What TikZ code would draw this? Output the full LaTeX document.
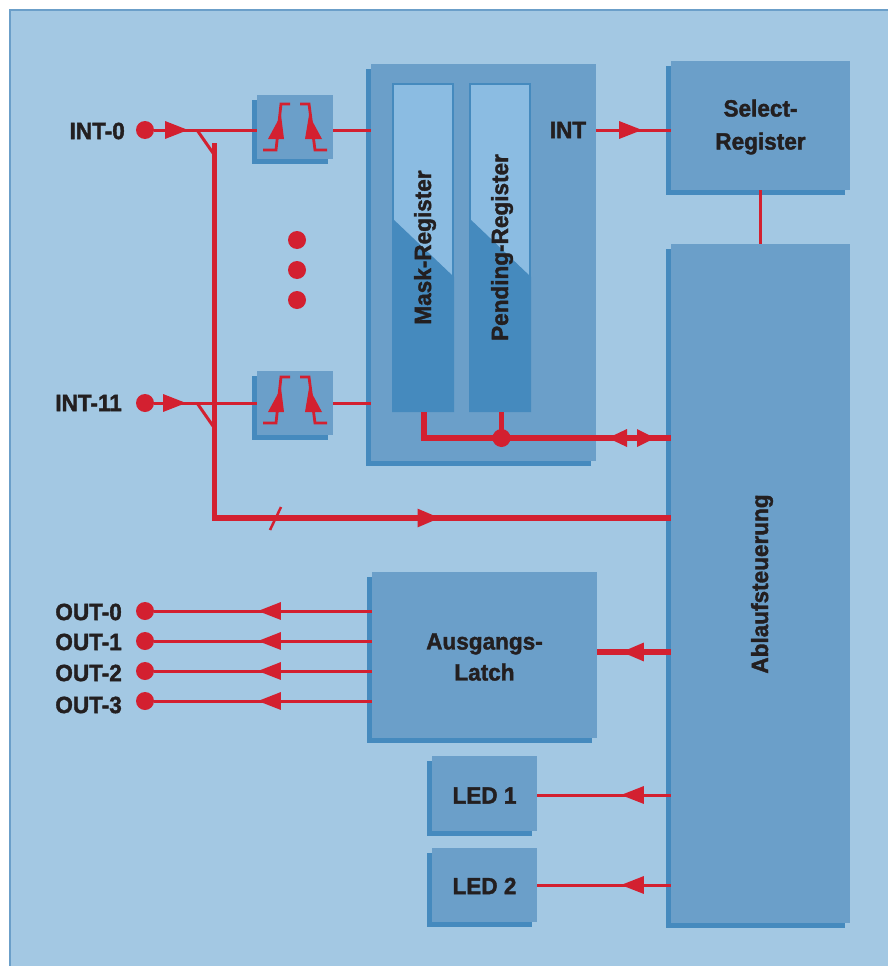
\documentclass[tikz,border=0pt]{standalone}
\usepackage{fontspec}
\setmainfont[BoldFeatures={FakeStretch=0.96,FakeBold=1.6}]{Liberation Sans}
\usetikzlibrary{arrows.meta,shadows,decorations.markings}

\definecolor{panel}{HTML}{A3C8E3}
\definecolor{edge}{HTML}{6B9FC9}
\definecolor{face}{HTML}{6B9FC9}
\definecolor{deep}{HTML}{458ABE}
\definecolor{pale}{HTML}{8BBCE2}
\definecolor{wire}{HTML}{D32030}
\definecolor{ink}{HTML}{231F20}

\tikzset{
  block/.style={fill=face, inner sep=0pt,
    general shadow={shadow xshift=-5pt, shadow yshift=-5pt, fill=deep}},
  regbox/.style={fill=pale, draw=deep, line width=2pt, inner sep=0pt, minimum width=60pt, minimum height=327pt},
  label/.style={inner sep=0pt, text=ink, align=center, font=\bfseries\fontsize{23.5}{30}\selectfont},
  pin/.style={circle, fill=wire, inner sep=0pt, minimum size=18pt},
  thin wire/.style={draw=wire, line width=3pt},
  fat wire/.style={draw=wire, line width=5.5pt},
  tip at/.style={postaction={decorate}, decoration={markings,
    mark=at position #1 with {\arrow{Triangle[length=23pt,width=17pt]}}}},
  opto/.pic={
    \draw[wire, line width=2.8pt] (-32,20) -- (-19,20) -- (-14,-26) -- (-5,-26);
    \draw[wire, line width=2.8pt] (5,-26) -- (14,-26) -- (20,20) -- (32,20);
    \fill[wire] (-27,9) -- (-14,-15) -- (-11,9) -- cycle;
    \fill[wire] (10,9) -- (14,-15) -- (27,9) -- cycle;
  }
}

\begin{document}
\begin{tikzpicture}[x=1pt,y=-1pt]
  \useasboundingbox (0,0) rectangle (887,966);

  % panel
  \fill[white] (0,0) rectangle (887,966);
  \draw[edge, fill=panel, line width=2.5pt] (10,10) rectangle (895,975);

  % blocks
  \node[block, minimum width=225pt, minimum height=397pt] (main) at (483.5,262.5) {};
  \node[block, minimum width=179pt, minimum height=129pt] (select) at (760.5,125.5) {};
  \node[block, minimum width=179pt, minimum height=679pt] (control) at (760.5,583.5) {};
  \node[block, minimum width=225pt, minimum height=166pt] (latch) at (484.5,655) {};
  \node[block, minimum width=105pt, minimum height=75pt] (led1) at (484.5,793.5) {};
  \node[block, minimum width=105pt, minimum height=74pt] (led2) at (484.5,885) {};
  \node[block, minimum width=76pt, minimum height=64pt] (opto0) at (295,127) {};
  \node[block, minimum width=76pt, minimum height=64pt] (opto11) at (295,403) {};

  % registers
  \node[regbox] (mask) at (423,247.5) {};
  \node[regbox] (pending) at (500,247.5) {};
  \fill[deep] (392,218) -- (454,277) -- (454,412) -- (392,412) -- cycle;
  \fill[deep] (469,218) -- (531,277) -- (531,412) -- (469,412) -- cycle;

  % block texts
  \node[label, rotate=90] (masktext) at (425,247.5) {Mask-Register};
  \node[label, rotate=90] (pendtext) at (502,247.5) {Pending-Register};
  \node[label] (selecttext) at (760.5,127) {Select-\\[3pt]Register};
  \node[label, rotate=90] (controltext) at (762,584) {Ablaufsteuerung};
  \node[label] (latchtext) at (484.5,657) {Ausgangs-\\[1pt]Latch};
  \node[label] (led1text) at (484.5,795.5) {LED 1};
  \node[label] (led2text) at (484.5,886) {LED 2};

  % optocoupler symbols
  \pic at (295,130) {opto};
  \pic at (295,403) {opto};

  % pins and labels
  \node[pin] (in0) at (145,130) {};
  \node[pin] (in11) at (145,403) {};
  \node[pin] (out0) at (145,611) {};
  \node[pin] (out1) at (145,641) {};
  \node[pin] (out2) at (145,671) {};
  \node[pin] (out3) at (145,701) {};
  \node[label, anchor=east] (in0text) at (125,131) {INT-0};
  \node[label, anchor=east] (in11text) at (122,403) {INT-11};
  \node[label, anchor=east] (out0text) at (122,612) {OUT-0};
  \node[label, anchor=east] (out1text) at (122,642) {OUT-1};
  \node[label, anchor=east] (out2text) at (122,673) {OUT-2};
  \node[label, anchor=east] (out3text) at (122,705) {OUT-3};
  \node[label] (int) at (568,130) {INT};

  % dots
  \node[pin] (dota) at (297,240) {};
  \node[pin] (dotb) at (297,270) {};
  \node[pin] (dotc) at (297,300) {};

  % inputs
  \draw[thin wire, tip at=34pt] (in0) -- (in0 -| opto0.west);
  \draw[thin wire, tip at=32pt] (in11) -- (in11 -| opto11.west);
  \draw[thin wire] (in0 -| opto0.east) -- (in0 -| main.west);
  \draw[thin wire] (in11 -| opto11.east) -- (in11 -| main.west);

  % bus
  \coordinate (tap0) at (197,130);
  \coordinate (tap11) at (197,403);
  \coordinate (bustop) at (214.5,143);
  \coordinate (buscorner) at (214.5,518);
  \coordinate (slasha) at (270,530);
  \coordinate (slashb) at (281,507);
  \draw[thin wire] (tap0) -- (213,153);
  \draw[thin wire] (tap11) -- (213,426);
  \draw[fat wire, tip at=601pt] (bustop) -- (buscorner) -- (buscorner -| control.west);
  \draw[wire, line width=2.5pt] (slasha) -- (slashb);

  % INT and select link
  \draw[thin wire, tip at=46pt] (int -| main.east) -- (int -| select.west);
  \draw[wire, line width=3pt] (select.south -| 760,0) -- (control.north -| 760,0);

  % register bus
  \coordinate (regbus) at (424,438);
  \node[pin] (join) at (501.5,438) {};
  \draw[fat wire] (424,412) -- (regbus) -- (join.center);
  \draw[fat wire] (501.5,412) -- (join.center);
  \draw[fat wire] (join.center) -- (join -| control.west);
  \fill[wire] (608,438) -- (627,429) -- (627,447) -- cycle;
  \fill[wire] (655,438) -- (637,429) -- (637,447) -- cycle;

  % outputs
  \draw[thin wire, tip at=114pt] (out0 -| latch.west) -- (out0);
  \draw[thin wire, tip at=114pt] (out1 -| latch.west) -- (out1);
  \draw[thin wire, tip at=114pt] (out2 -| latch.west) -- (out2);
  \draw[thin wire, tip at=114pt] (out3 -| latch.west) -- (out3);
  \coordinate (latchin) at (latch.east |- 0,652);
  \draw[fat wire, tip at=50pt] (latchin -| control.west) -- (latchin);

  % LEDs
  \coordinate (led1in) at (led1.east |- 0,795);
  \coordinate (led2in) at (led2.east |- 0,885);
  \draw[thin wire, tip at=50pt] (led1in -| control.west) -- (led1in);
  \draw[thin wire, tip at=50pt] (led2in -| control.west) -- (led2in);
\end{tikzpicture}
\end{document}
